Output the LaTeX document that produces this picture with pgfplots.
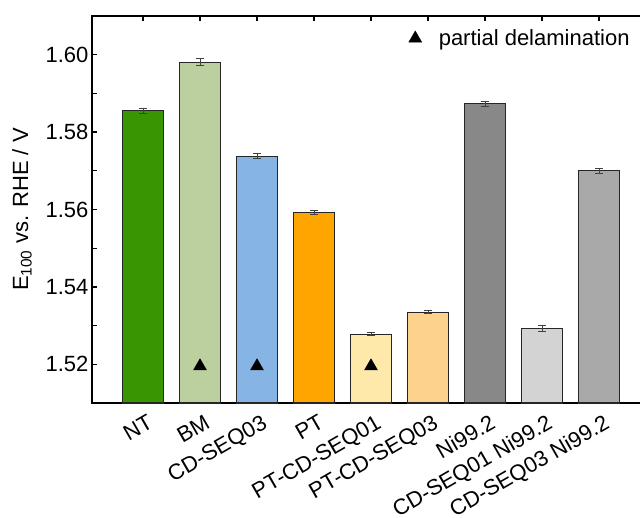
\documentclass[border=0pt]{standalone}
\usepackage{fontspec}
\setmainfont{Liberation Sans}
\usepackage{pgfplots}
\pgfplotsset{compat=1.18}

\definecolor{cNT}{RGB}{58,150,0}
\definecolor{cBM}{RGB}{188,207,158}
\definecolor{cCDthree}{RGB}{134,180,228}
\definecolor{cPT}{RGB}{255,165,0}
\definecolor{cPTone}{RGB}{255,233,170}
\definecolor{cPTthree}{RGB}{253,210,140}
\definecolor{cNi}{RGB}{136,136,136}
\definecolor{cNione}{RGB}{211,211,211}
\definecolor{cNithree}{RGB}{169,169,169}

\newcommand{\lblfont}{\fontsize{22}{26}\selectfont}

\pgfplotsset{
  onebar/.style={
    error bars/.cd, y dir=both, y explicit,
    error bar style={line width=0.7pt, draw=black!75},
    error mark options={rotate=90, mark size=4pt, line width=0.7pt, draw=black!75},
    /pgfplots/.cd,
    ybar, bar width=0.72, bar shift=0pt,
    draw=black!85, line width=1.1pt,
    forget plot,
  },
}

\begin{document}
\begin{tikzpicture}
\begin{axis}[
  scale only axis,
  width=558pt, height=387pt,
  xmin=-0.895, xmax=8.895,
  ymin=1.51, ymax=1.61,
  axis line style={line width=1.3pt},
  xtick={0,1,2,3,4,5,6,7,8},
  xticklabels={NT,BM,CD-SEQ03,PT,PT-CD-SEQ01,PT-CD-SEQ03,Ni99.2,CD-SEQ01 Ni99.2,CD-SEQ03 Ni99.2},
  xticklabel style={xshift=5pt, yshift=-6pt, rotate=30, anchor=north east, font=\lblfont},
  ytick={1.52,1.54,1.56,1.58,1.60},
  minor ytick={1.51,1.53,1.55,1.57,1.59,1.61},
  yticklabel style={font=\lblfont},
  /pgf/number format/.cd, fixed, fixed zerofill, precision=2, assume math mode=true,
  /pgfplots/.cd,
  tick align=inside,
  tick style={line width=1.3pt, black},
  major tick length=5pt, minor tick length=5pt,
  ylabel={E\textsubscript{100} vs. RHE / V},
  ylabel style={font=\lblfont, at={(axis description cs:-0.1254,0.5)}, anchor=center},
  legend style={draw=none, fill=none, at={(axis cs:8.575,1.6042)}, anchor=east,
    font=\lblfont, inner sep=0pt, column sep=15pt},
  legend cell align=left,
]
\addplot[onebar, fill=cNT]      coordinates {(0,1.5855) +- (0,0.00068)};
\addplot[onebar, fill=cBM]      coordinates {(1,1.5981) +- (0,0.00086)};
\addplot[onebar, fill=cCDthree] coordinates {(2,1.5738) +- (0,0.00068)};
\addplot[onebar, fill=cPT]      coordinates {(3,1.5593) +- (0,0.00043)};
\addplot[onebar, fill=cPTone]   coordinates {(4,1.5278) +- (0,0.00043)};
\addplot[onebar, fill=cPTthree] coordinates {(5,1.5335) +- (0,0.00034)};
\addplot[onebar, fill=cNi]      coordinates {(6,1.5873) +- (0,0.0006)};
\addplot[onebar, fill=cNione]   coordinates {(7,1.5292) +- (0,0.00077)};
\addplot[onebar, fill=cNithree] coordinates {(8,1.5700) +- (0,0.0006)};
% samples that partially delaminated
\addplot[only marks, mark=triangle*, mark size=7.5pt, black]
  coordinates {(1,1.5195) (2,1.5195) (4,1.5195)};
\addlegendentry{partial delamination}
\end{axis}
\pgfresetboundingbox
\path[use as bounding box] (-92pt,-114pt) rectangle (548pt,403pt);
\end{tikzpicture}
\end{document}
